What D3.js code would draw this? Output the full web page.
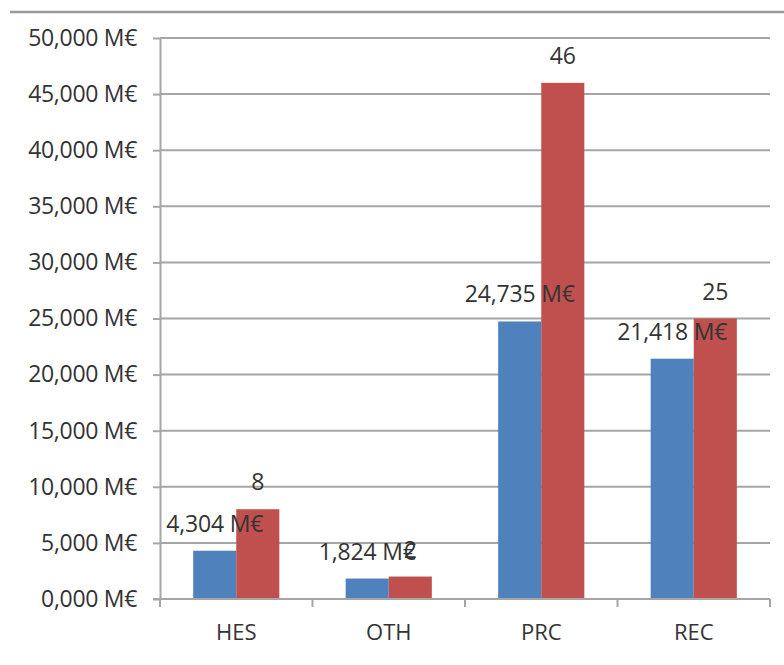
<!DOCTYPE html>
<html>
<head>
<meta charset="utf-8">
<script src="https://cdn.jsdelivr.net/npm/d3@7"></script>
<style>
  html, body { margin: 0; padding: 0; background: #fff; }
  svg { display: block; }
  text { font-family: "Open Sans", sans-serif; fill: #333; }
</style>
</head>
<body>
<svg id="chart" width="784" height="665"></svg>
<script>
// Programme categories
const categories = ["HES", "OTH", "PRC", "REC"];
// Budget per category (thousand M€ units as shown on the axis)
const budget = [4.304, 1.824, 24.735, 21.418];
// Number of projects per category
const projects = [8, 2, 46, 25];
// Axis tick values
const yTicks = [0, 5, 10, 15, 20, 25, 30, 35, 40, 45, 50];

const svg = d3.select("#chart");
const W = 784, H = 665;
const plot = { left: 160, right: 770, top: 38, bottom: 599 };

const grid = "#a6a6a6";
const blue = "#4f81bd";
const red = "#c0504d";
const FONT = "Open Sans";

// Euro locale: comma as decimal separator
const eu = d3.formatLocale({ decimal: ",", thousands: ".", grouping: [3], currency: ["", " M€"] });
const fmt = eu.format(".3f");
const money = v => fmt(v) + " M€";

const y = d3.scaleLinear().domain([0, 50]).range([plot.bottom, plot.top]);
const x = d3.scaleBand().domain(categories).range([plot.left, plot.right]).padding(0);
const inner = d3.scaleBand().domain(["budget", "projects"])
  .range([0, x.bandwidth()]).paddingInner(0).paddingOuter(0.77);

// Frame line across the top
svg.append("line")
  .attr("x1", 10).attr("x2", W).attr("y1", 12).attr("y2", 12)
  .attr("stroke", "#9a9a9a").attr("stroke-width", 2.5);

// Horizontal gridlines
svg.append("g").selectAll("line")
  .data(yTicks.filter(t => t > 0))
  .join("line")
  .attr("x1", plot.left).attr("x2", plot.right)
  .attr("y1", d => y(d)).attr("y2", d => y(d))
  .attr("stroke", grid).attr("stroke-width", 2);

// Bars
const groups = svg.append("g").selectAll("g")
  .data(categories)
  .join("g")
  .attr("transform", d => `translate(${x(d)},0)`);

groups.append("rect")
  .attr("x", inner("budget"))
  .attr("width", inner.bandwidth())
  .attr("y", (d, i) => y(budget[i]))
  .attr("height", (d, i) => y(0) - y(budget[i]))
  .attr("fill", blue);

groups.append("rect")
  .attr("x", inner("projects"))
  .attr("width", inner.bandwidth())
  .attr("y", (d, i) => y(projects[i]))
  .attr("height", (d, i) => y(0) - y(projects[i]))
  .attr("fill", red);

// Y axis
const yAxis = svg.append("g")
  .attr("transform", `translate(${plot.left},0)`)
  .call(d3.axisLeft(y).tickValues(yTicks).tickSize(7).tickPadding(16).tickFormat(money).tickSizeOuter(0));
yAxis.select(".domain").attr("stroke", grid).attr("stroke-width", 2);
yAxis.selectAll(".tick line").attr("stroke", grid).attr("stroke-width", 2);
yAxis.selectAll(".tick text").attr("font-size", 23).attr("font-family", FONT)
  .attr("fill", "#333").attr("letter-spacing", -0.3);

// X axis line with boundary ticks
svg.append("line")
  .attr("x1", plot.left - 7).attr("x2", plot.right)
  .attr("y1", plot.bottom).attr("y2", plot.bottom)
  .attr("stroke", grid).attr("stroke-width", 2);
const edges = categories.map(c => x(c)).concat([x(categories[categories.length - 1]) + x.bandwidth()]);
svg.append("g").selectAll("line")
  .data(edges)
  .join("line")
  .attr("x1", d => d).attr("x2", d => d)
  .attr("y1", plot.bottom).attr("y2", plot.bottom + 8)
  .attr("stroke", grid).attr("stroke-width", 2);

// Category labels
const xAxis = svg.append("g")
  .attr("transform", `translate(0,${plot.bottom})`)
  .call(d3.axisBottom(x).tickSize(0).tickPadding(25));
xAxis.select(".domain").remove();
xAxis.selectAll(".tick text").attr("font-size", 22).attr("font-family", FONT)
  .attr("fill", "#333").attr("letter-spacing", 0);

// Value labels
groups.append("text")
  .attr("x", inner("budget") + inner.bandwidth() / 2)
  .attr("y", (d, i) => y(budget[i]) - 19)
  .attr("text-anchor", "middle")
  .attr("font-size", 23)
  .attr("letter-spacing", -0.2)
  .text((d, i) => money(budget[i]));

groups.append("text")
  .attr("x", inner("projects") + inner.bandwidth() / 2)
  .attr("y", (d, i) => y(projects[i]) - 19)
  .attr("text-anchor", "middle")
  .attr("font-size", 23)
  .text((d, i) => projects[i]);
</script>
</body>
</html>
